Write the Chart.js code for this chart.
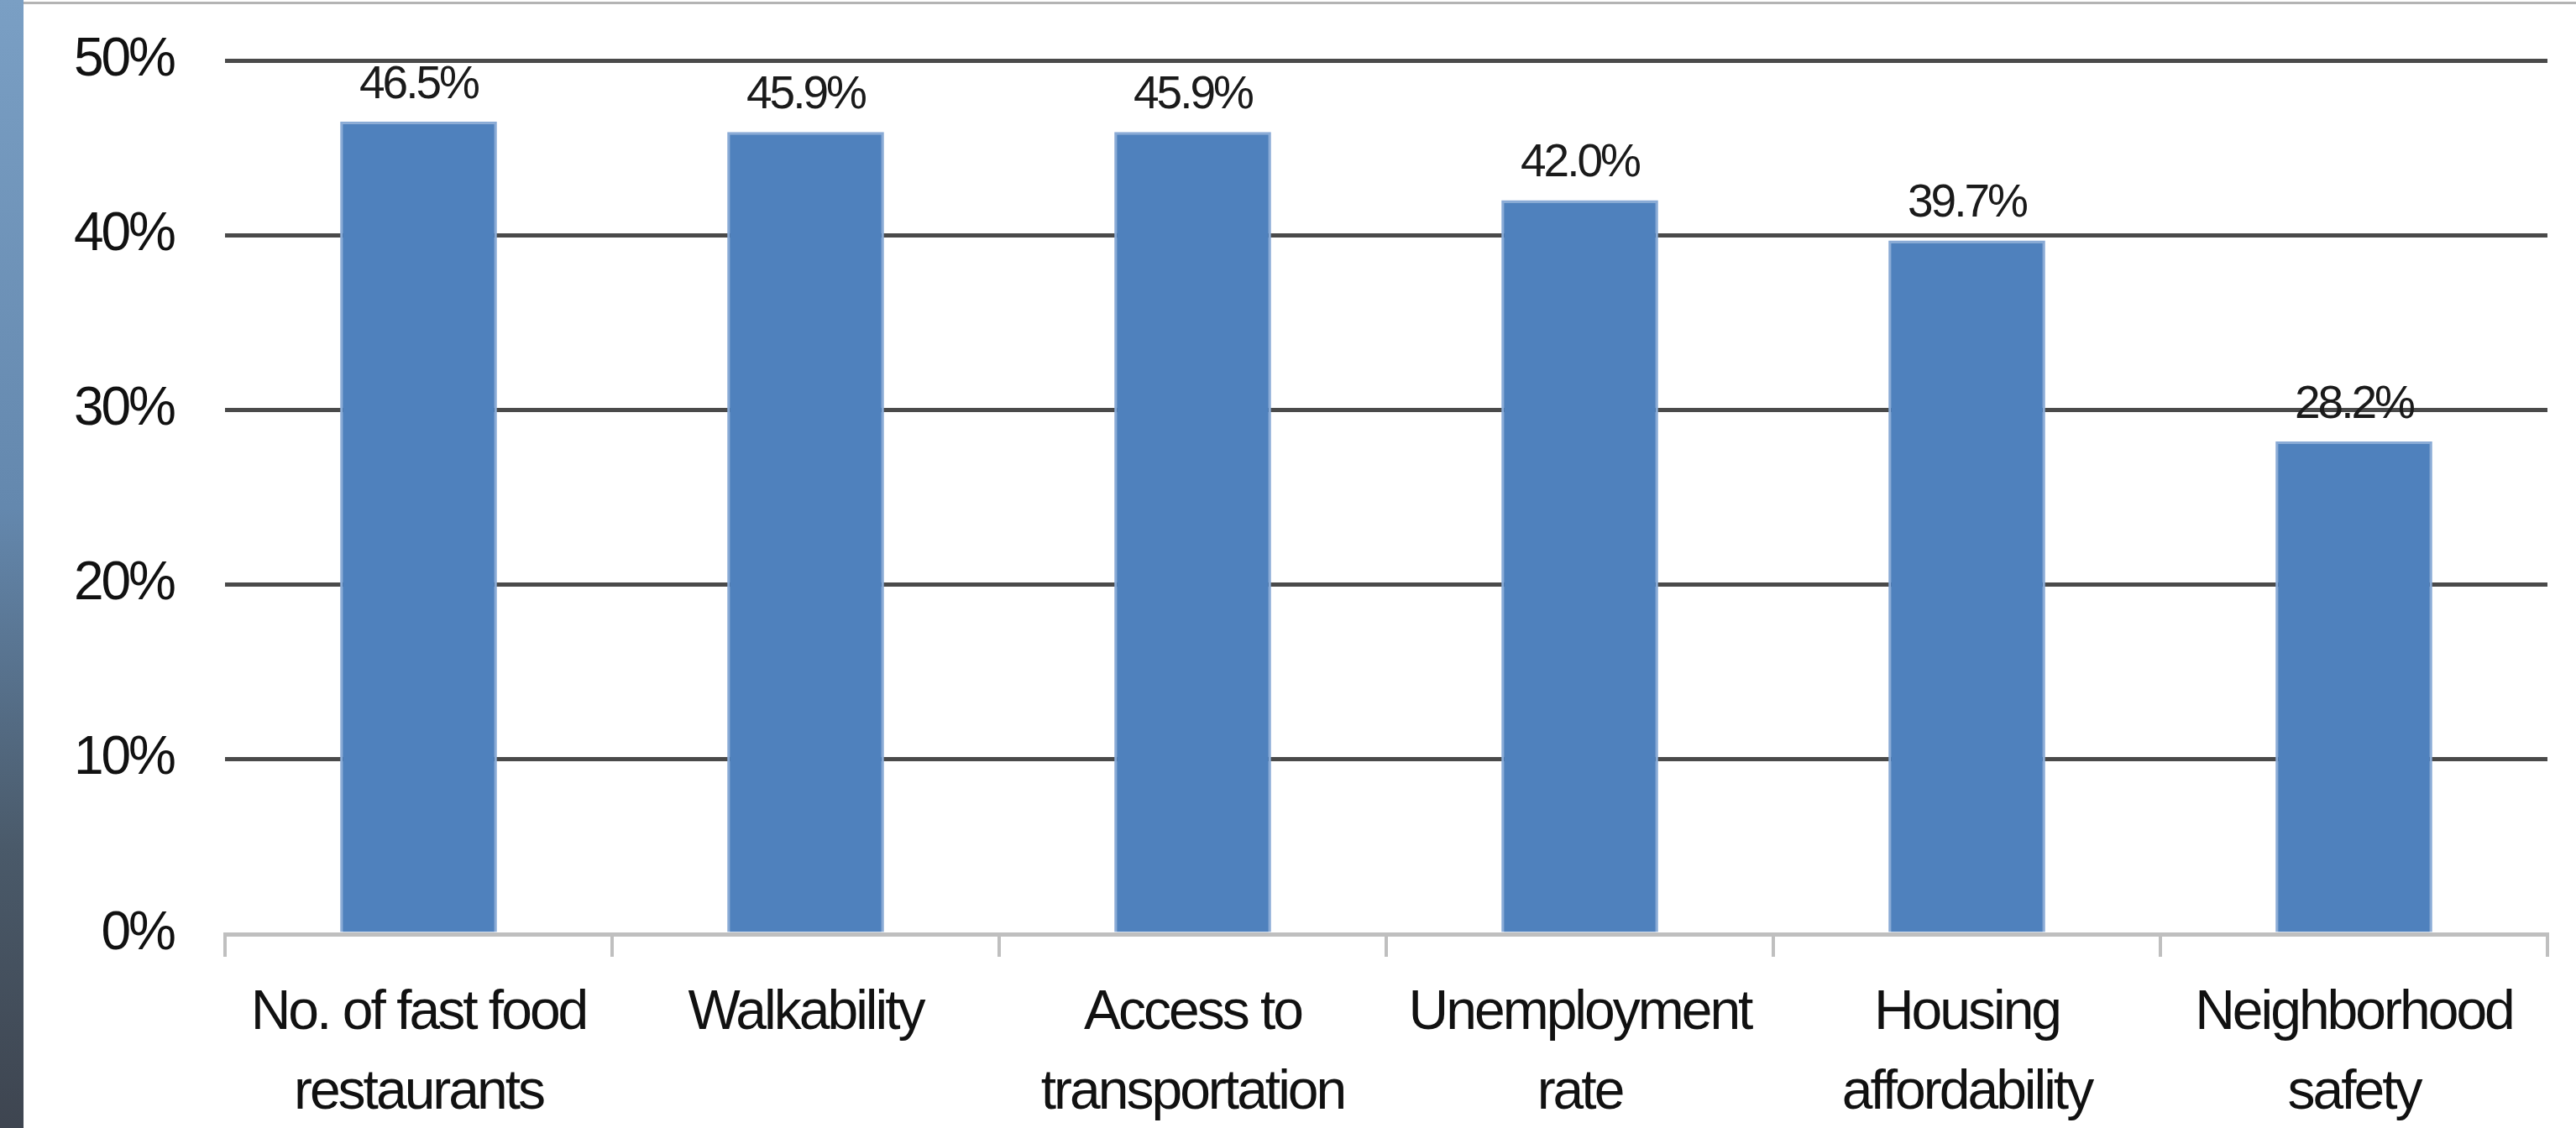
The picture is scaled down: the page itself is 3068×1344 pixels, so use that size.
<!DOCTYPE html>
<html>
<head>
<meta charset="utf-8">
<script src="https://cdn.jsdelivr.net/npm/chart.js@4.4.1/dist/chart.umd.min.js"></script>
<style>
    html, body { margin: 0; padding: 0; background: #ffffff; overflow: hidden; }
    #wrap { position: relative; width: 3068px; height: 1344px; }
    #strip {
        position: absolute; left: 0; top: 0; width: 28px; height: 1344px;
        background: linear-gradient(to bottom, #7a9fc4, #6488ae 45%, #4a5a6a 75%, #3e4550);
    }
    #topline { position: absolute; left: 28px; right: 0; top: 2px; height: 3px; background: #b4b4b4; }
    canvas { position: absolute; left: 0; top: 0; }
</style>
</head>
<body>
<div id="wrap">
    <canvas id="grafico" width="3068" height="1344"></canvas>
    <div id="strip"></div>
    <div id="topline"></div>
</div>
<script>
// dati
const categorie = [
    ["No. of fast food", "restaurants"],
    "Walkability",
    ["Access to", "transportation"],
    ["Unemployment", "rate"],
    ["Housing", "affordability"],
    ["Neighborhood", "safety"]
];
const valori = [46.5, 45.9, 45.9, 42.0, 39.7, 28.2];
const tickY = [0, 10, 20, 30, 40, 50];

const FONT = '"Liberation Sans", Arial, sans-serif';

// testo un po' più stretto, l'originale è Calibri
const stretto = {
    id: "stretto",
    beforeDraw(chart) {
        chart.ctx.letterSpacing = "-3px";
    }
};

// etichette sopra le barre
const etichette = {
    id: "etichette",
    afterDatasetsDraw(chart) {
        const ctx = chart.ctx;
        const meta = chart.getDatasetMeta(0);
        ctx.save();
        ctx.letterSpacing = "-3px";
        ctx.font = "55px " + FONT;
        ctx.fillStyle = "#1a1a1a";
        ctx.textAlign = "center";
        ctx.textBaseline = "bottom";
        meta.data.forEach(function (bar, i) {
            ctx.fillText(valori[i].toFixed(1) + "%", bar.x, bar.y - 16);
        });
        ctx.restore();
    }
};

const ctx = document.getElementById("grafico").getContext("2d");

new Chart(ctx, {
    type: "bar",
    data: {
        labels: categorie,
        datasets: [{
            data: valori,
            backgroundColor: "#4f81bd",
            borderColor: "#8aabd6",
            borderWidth: 3,
            borderSkipped: "bottom",
            categoryPercentage: 1,
            barPercentage: 0.405
        }]
    },
    options: {
        responsive: false,
        devicePixelRatio: 1,
        animation: false,
        layout: { padding: { top: 72, right: 34, bottom: 0, left: 0 } },
        plugins: {
            legend: { display: false },
            tooltip: { enabled: false }
        },
        scales: {
            x: {
                afterFit: function (scale) {
                    scale.height = 231;
                    scale.paddingLeft = 0;
                    scale.paddingRight = 0;
                },
                border: { display: true, color: "#bfbfbf", width: 5 },
                grid: {
                    offset: true,
                    drawOnChartArea: false,
                    drawTicks: true,
                    tickLength: 27,
                    color: "#bfbfbf",
                    lineWidth: 4
                },
                ticks: {
                    color: "#111111",
                    padding: 20,
                    maxRotation: 0,
                    autoSkip: false,
                    font: { family: FONT, size: 66, lineHeight: 1.44 }
                }
            },
            y: {
                min: 0,
                max: 50,
                afterFit: function (scale) {
                    scale.width = 268;
                    scale.paddingTop = 0;
                    scale.paddingBottom = 0;
                },
                afterBuildTicks: function (scale) {
                    scale.ticks = tickY.map(function (v) { return { value: v }; });
                },
                border: { display: false },
                grid: {
                    drawTicks: false,
                    color: function (c) { return c.tick && c.tick.value === 0 ? "rgba(0,0,0,0)" : "#4a4a4a"; },
                    lineWidth: 5
                },
                ticks: {
                    color: "#111111",
                    padding: 61,
                    font: { family: FONT, size: 64 },
                    callback: function (v) { return v + "%"; }
                }
            }
        }
    },
    plugins: [stretto, etichette]
});
</script>
</body>
</html>
